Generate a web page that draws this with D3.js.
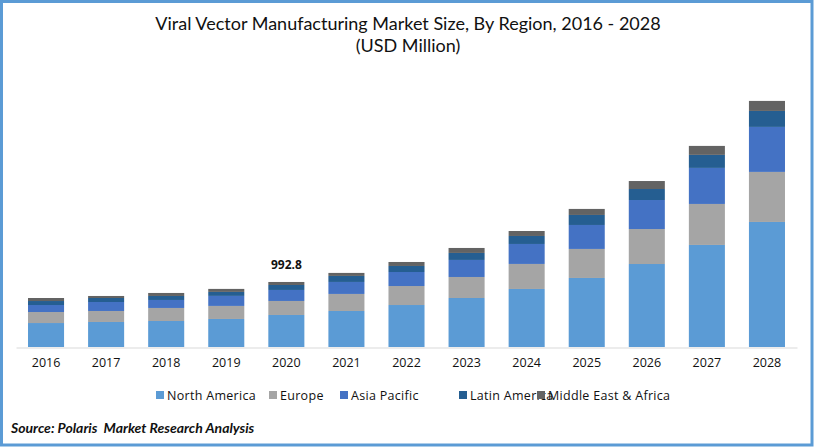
<!DOCTYPE html>
<html>
<head>
<meta charset="utf-8">
<script src="https://cdnjs.cloudflare.com/ajax/libs/d3/7.8.5/d3.min.js"></script>
<style>
html,body{margin:0;padding:0;background:#fff;}
svg{display:block;}
text{fill:#111;}
</style>
</head>
<body>
<svg id="c" width="814" height="447"></svg>
<script>
const years = ["2016","2017","2018","2019","2020","2021","2022","2023","2024","2025","2026","2027","2028"];
const seriesNames = ["North America","Europe","Asia Pacific","Latin America","Middle East & Africa"];
const colors = ["#5b9bd5","#a5a5a5","#4472c4","#255e91","#636363"];
const northAmerica = [366,382,397,428,488.8,550,641,748,886,1054,1267,1558,1909];
const europe = [168,168,199,199,214,260,290,321,382,443,534,626,764];
const asiaPacific = [107,137,122,153,168,183,214,260,305,366,443,550,687];
const latinAmerica = [61,61,61,61,76,92,92,107,122,153,168,199,244];
const middleEastAfrica = [46,31,46,46,46,46,61,76,76,92,122,137,153];
const annotatedYear = "2020";
const annotatedValue = "992.8";
const titleLines = ["Viral Vector Manufacturing Market Size, By Region, 2016 - 2028","(USD Million)"];
const sourceText = "Source: Polaris  Market Research Analysis";

const allSeries = [northAmerica,europe,asiaPacific,latinAmerica,middleEastAfrica];
const table = years.map((y,i)=>{const r={year:y};seriesNames.forEach((n,k)=>r[n]=allSeries[k][i]);return r;});
const stacked = d3.stack().keys(seriesNames)(table);

const svg = d3.select("#c");
const W=814,H=447;
svg.append("rect").attr("x",1.5).attr("y",1.5).attr("width",W-3.5).attr("height",H-3.5)
  .attr("fill","#fff").attr("stroke","#5b9bd5").attr("stroke-width",3);

const x = d3.scaleBand().domain(years).range([16,797]).paddingInner(0.4).paddingOuter(0.2);
const y = d3.scaleLinear().domain([0,4000]).range([347,85]);

const font="Lato, Carlito, sans-serif";
const uiFont="'Open Sans', sans-serif";

svg.append("g").selectAll("g").data(stacked).join("g")
  .attr("fill",(d,i)=>colors[i])
  .selectAll("rect").data(d=>d).join("rect")
  .attr("x",d=>x(d.data.year)).attr("width",x.bandwidth())
  .attr("y",d=>y(d[1])).attr("height",d=>y(d[0])-y(d[1]));

const ax = svg.append("g").attr("transform","translate(0,347.5)")
  .call(d3.axisBottom(x).tickSize(0).tickPadding(11));
ax.select(".domain").attr("stroke","#d9d9d9").attr("stroke-width",1);
ax.selectAll("text").attr("font-family",uiFont).attr("font-size",12.5).style("fill","#111");

svg.append("g").selectAll("text").data(titleLines).join("text")
  .attr("x",408).attr("y",(d,i)=>30+i*22)
  .attr("text-anchor","middle").attr("font-family",font).attr("font-size",18).text(d=>d);

const totalAt = table.find(r=>r.year===annotatedYear);
const totalVal = d3.sum(seriesNames,n=>totalAt[n]);
svg.append("text").attr("x",x(annotatedYear)+x.bandwidth()/2).attr("y",y(totalVal)-13)
  .attr("text-anchor","middle").attr("font-family",uiFont).attr("font-weight",700)
  .attr("font-size",12).text(annotatedValue);

const legendX=[156,269,340,459,537];
const lg = svg.append("g").selectAll("g").data(seriesNames).join("g")
  .attr("transform",(d,i)=>`translate(${legendX[i]},391)`);
lg.append("rect").attr("width",8).attr("height",8).attr("fill",(d,i)=>colors[i]);
lg.append("text").attr("x",11).attr("y",9).attr("font-family",uiFont).attr("font-size",12.5)
  .attr("letter-spacing",0.3).text(d=>d);

svg.append("text").attr("x",11).attr("y",433).attr("font-family",font)
  .attr("font-weight",700).attr("font-style","italic").attr("font-size",14).style("white-space","pre").text(sourceText);
</script>
</body>
</html>
